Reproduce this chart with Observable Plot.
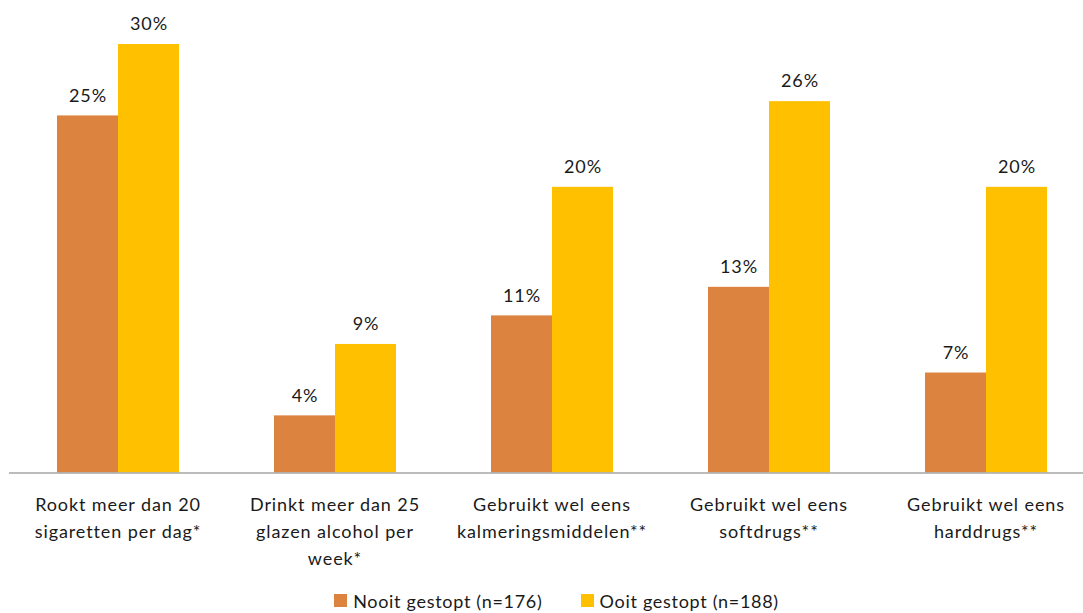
<!DOCTYPE html>
<html>
<head>
<meta charset="utf-8">
<script src="https://cdn.jsdelivr.net/npm/d3@7"></script>
<script src="https://cdn.jsdelivr.net/npm/@observablehq/plot@0.6"></script>
<style>
  html, body { margin: 0; padding: 0; background: #fff; overflow: hidden; }
  #chart svg { display: block; overflow: hidden; }
  #chart svg text { letter-spacing: 0.9px; }
  .legend { display: flex; justify-content: center; gap: 38px; font-family: Lato, "Open Sans", sans-serif; font-size: 18px; color: #1a1a1a; height: 25px; align-items: center; margin-left: 30px; }
  .legend span.item { display: flex; align-items: center; gap: 6px; letter-spacing: 0.7px; }
  .legend .sw { width: 13px; height: 13px; display: inline-block; }
</style>
</head>
<body>
<div id="chart"></div>
<div class="legend" id="legend"></div>
<script>
const categories = [
  "Rookt meer dan 20\nsigaretten per dag*",
  "Drinkt meer dan 25\nglazen alcohol per\nweek*",
  "Gebruikt wel eens\nkalmeringsmiddelen**",
  "Gebruikt wel eens\nsoftdrugs**",
  "Gebruikt wel eens\nharddrugs**"
];
const seriesNames = ["Nooit gestopt (n=176)", "Ooit gestopt (n=188)"];
const nooitGestopt = [25, 4, 11, 13, 7];
const ooitGestopt = [30, 9, 20, 26, 20];
const colors = ["#DC843F", "#FFC000"];

const data = [];
categories.forEach((c, i) => {
  data.push({category: c, series: seriesNames[0], value: nooitGestopt[i]});
  data.push({category: c, series: seriesNames[1], value: ooitGestopt[i]});
});

const font = 'Lato, "Open Sans", sans-serif';

const chart = Plot.plot({
  width: 1083,
  height: 588,
  marginTop: 44,
  marginBottom: 115.5,
  marginLeft: 9,
  marginRight: 0,
  style: {fontFamily: font, fontSize: "18px", color: "#1a1a1a", background: "#fff"},
  fx: {domain: categories, range: [8, 1094], padding: 0, label: null},
  x: {domain: seriesNames, paddingInner: 0, paddingOuter: 0.76, axis: null},
  y: {domain: [0, 30], axis: null},
  color: {domain: seriesNames, range: colors},
  marks: [
    Plot.barY(data, {fx: "category", x: "series", y: "value", fill: "series"}),
    Plot.ruleY([0], {stroke: "#A6A6A6", strokeWidth: 1.5}),
    Plot.text(data, {fx: "category", x: "series", y: "value", text: d => d.value + "%", dy: -20, fontSize: 18, fill: "#1a1a1a"}),
    Plot.axisFx({anchor: "bottom", tickSize: 0, tickPadding: 19, label: null, fontSize: 18, lineHeight: 1.5, fill: "#1a1a1a"})
  ]
});
document.getElementById("chart").appendChild(chart);

const legend = document.getElementById("legend");
seriesNames.forEach((s, i) => {
  const item = document.createElement("span");
  item.className = "item";
  const sw = document.createElement("span");
  sw.className = "sw";
  sw.style.background = colors[i];
  item.appendChild(sw);
  item.appendChild(document.createTextNode(s));
  legend.appendChild(item);
});
</script>
</body>
</html>
